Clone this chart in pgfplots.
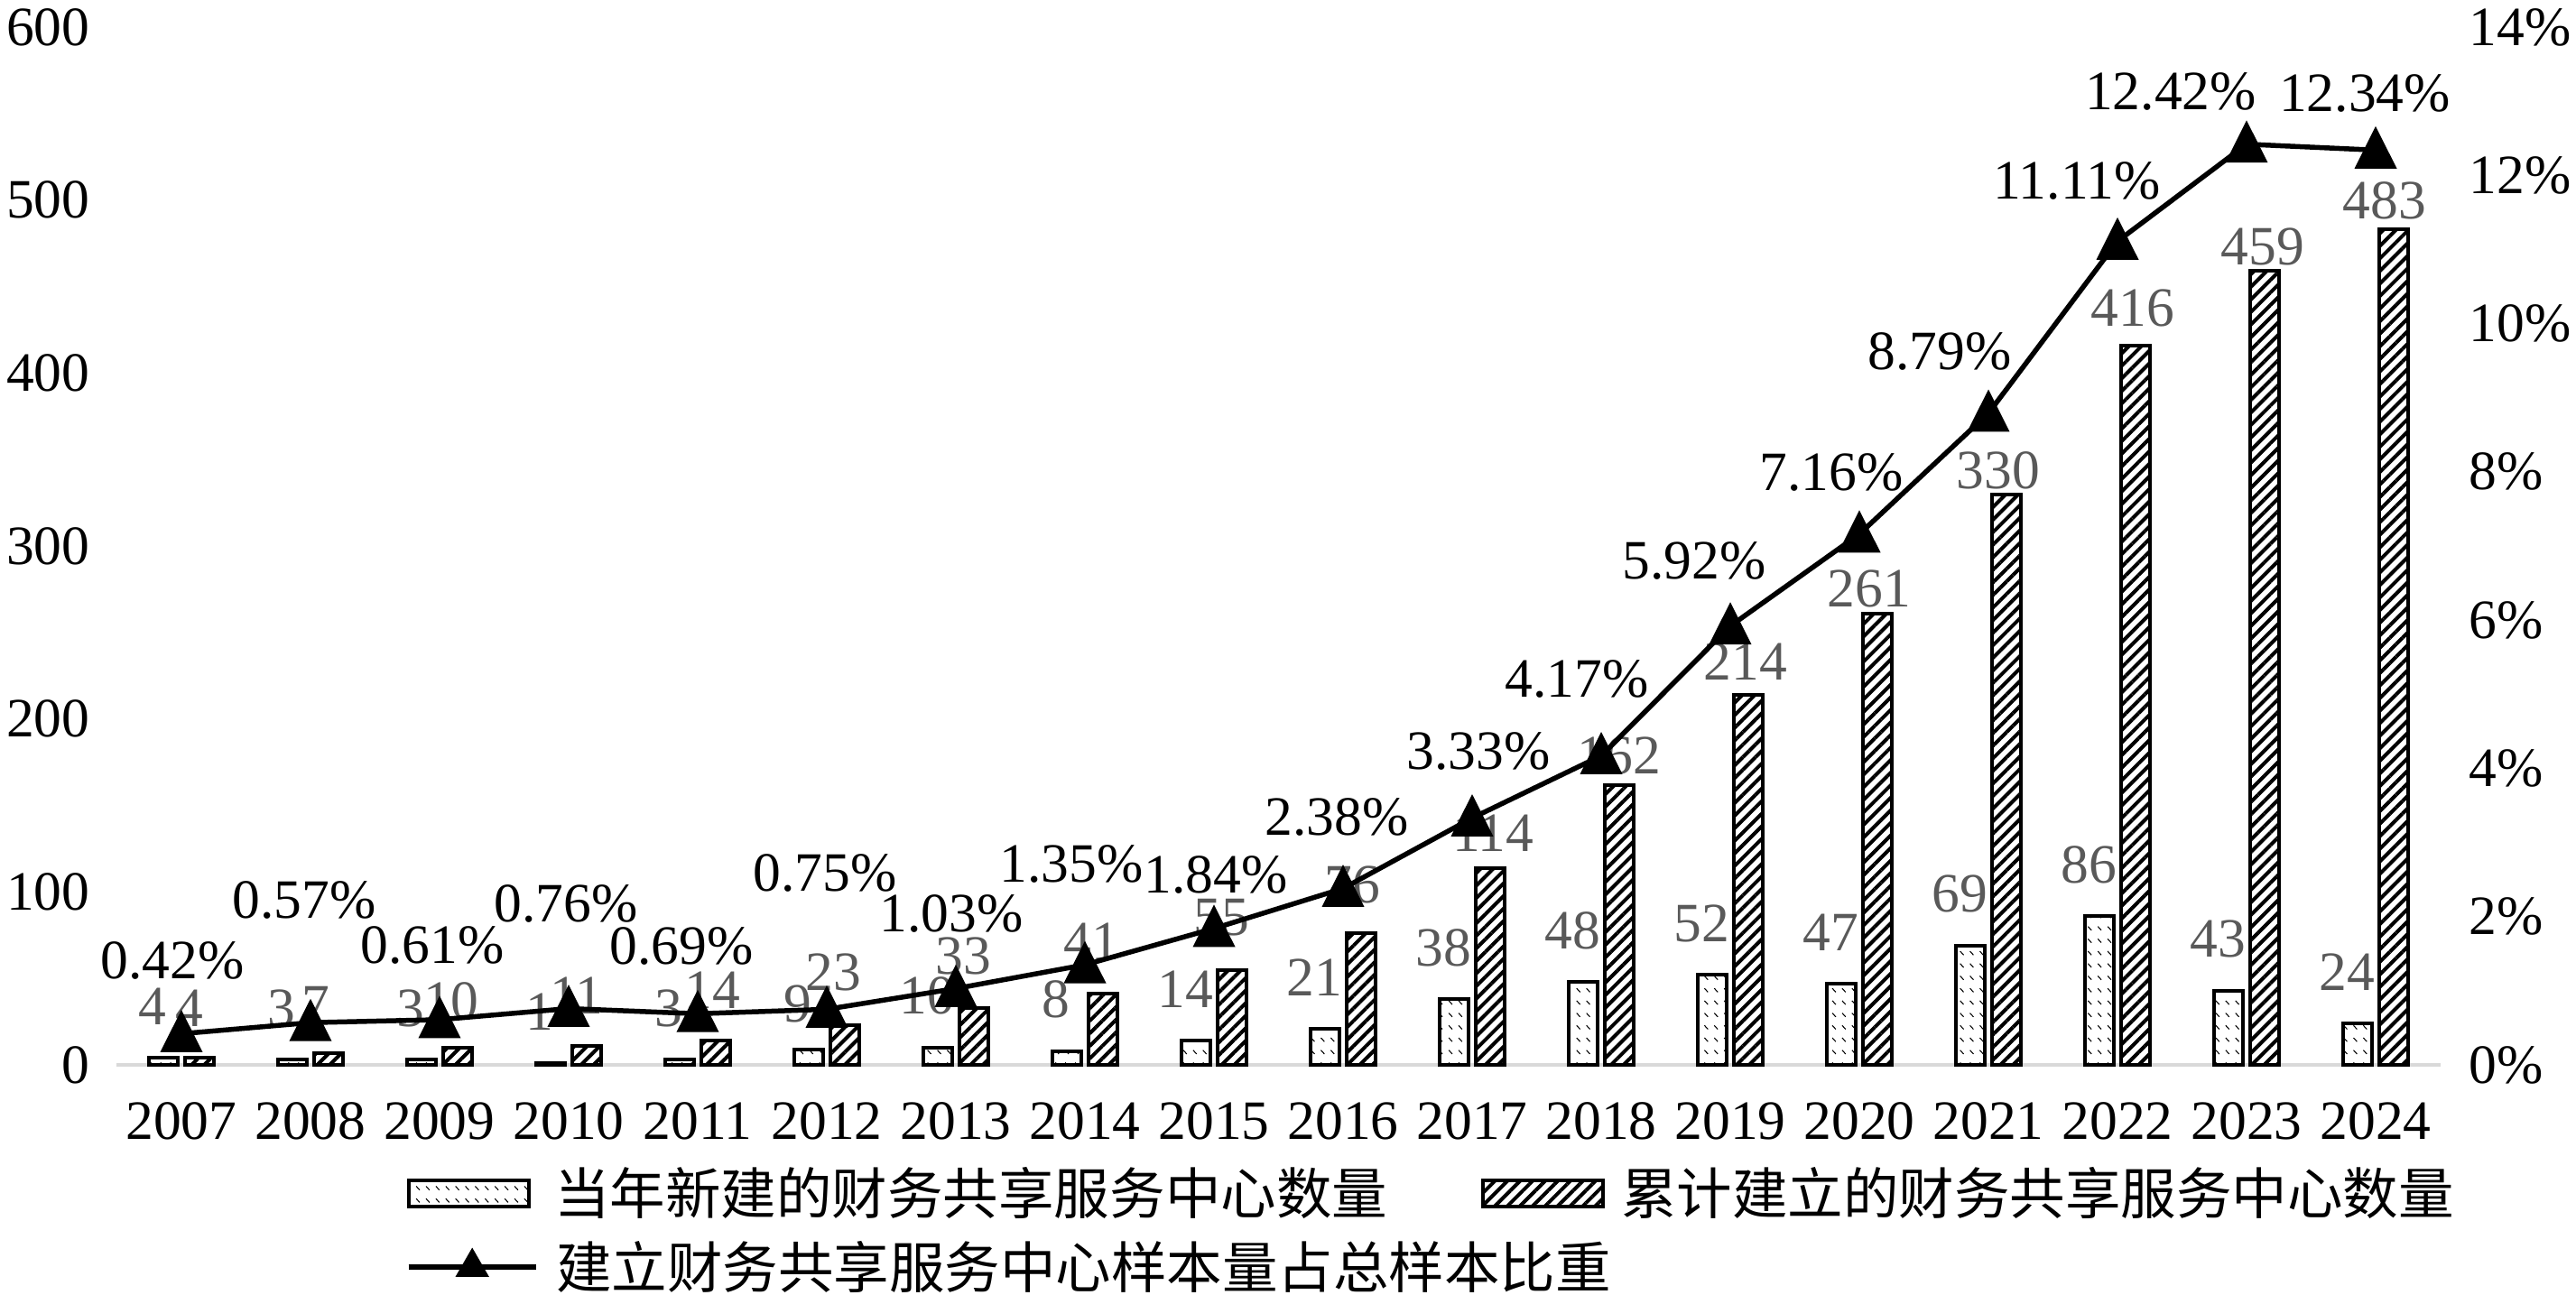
\documentclass[border=0pt]{standalone}
\usepackage{fontspec}
\setmainfont{Liberation Serif}
\newfontfamily\cjk{Noto Sans CJK SC}
\usepackage{pgfplots}
\pgfplotsset{compat=1.18}
\usepackage{pgfplotstable}
\usetikzlibrary{patterns,patterns.meta}

\definecolor{lblgray}{HTML}{595959}
\definecolor{axgray}{HTML}{D9D9D9}
\newcommand\fs{\fontsize{17.5pt}{21pt}\selectfont}

\pgfdeclarepatternformonly{sparsedash}{\pgfqpoint{-1pt}{-1pt}}{\pgfqpoint{4.5pt}{5pt}}{\pgfqpoint{3.1pt}{3.9pt}}{%
  \pgfsetlinewidth{0.3pt}%
  \pgfpathmoveto{\pgfqpoint{1.0pt}{2.8pt}}%
  \pgfpathlineto{\pgfqpoint{2.1pt}{1.6pt}}%
  \pgfusepath{stroke}%
}

\pgfplotstableread{
x new cum pct ndx ndy cdx cdy pdx pdy
0 4 4 0.42 -0.12 0.57 -0.11 0.55 -0.10 0.86
1 3 7 0.57 -0.12 0.57 -0.14 0.53 -0.07 1.41
2 3 10 0.61 -0.12 0.57 -0.07 0.51 -0.08 0.87
3 1 11 0.76 -0.12 0.57 -0.11 0.56 -0.03 1.21
4 3 14 0.69 -0.12 0.57 -0.04 0.56 -0.18 0.80
5 9 23 0.75 -0.12 0.50 -0.13 0.58 -0.02 1.56
6 10 33 1.03 -0.12 0.57 -0.12 0.57 -0.05 0.88
7 8 41 1.35 -0.12 0.57 -0.13 0.58 -0.15 1.17
8 14 55 1.84 -0.12 0.57 -0.12 0.58 0.02 0.64
9 21 76 2.38 -0.12 0.57 -0.10 0.54 -0.07 0.84
10 38 114 3.33 -0.12 0.57 0.03 0.38 0.07 0.79
11 48 162 4.17 -0.12 0.57 0.00 0.32 -0.27 0.90
12 52 214 5.92 -0.12 0.57 -0.03 0.37 -0.40 0.77
13 47 261 7.16 -0.12 0.57 -0.09 0.27 -0.31 0.73
14 69 330 8.79 -0.12 0.57 -0.09 0.26 -0.54 0.73
15 86 416 11.11 -0.12 0.57 -0.03 0.41 -0.45 0.72
16 43 459 12.42 -0.12 0.57 -0.02 0.27 -0.84 0.63
17 24 483 12.34 -0.12 0.57 -0.10 0.32 -0.12 0.68
}\datatable

\begin{document}
\begin{tikzpicture}[font=\fs]
\useasboundingbox (0,0) rectangle (28.54cm,14.34cm);

\begin{axis}[
  at={(1.295cm,2.54cm)}, anchor=south west,
  scale only axis, width=25.74cm, height=11.5cm,
  xmin=-0.5, xmax=17.5, ymin=0, ymax=600,
  enlargelimits=false, clip=false,
  axis x line*=bottom, axis y line*=left,
  x axis line style={-, draw=axgray, line width=0.04cm},
  y axis line style={draw=none},
  major tick length=0pt,
  xtick={0,1,...,17},
  xticklabels={2007,2008,2009,2010,2011,2012,2013,2014,2015,2016,2017,2018,2019,2020,2021,2022,2023,2024},
  ytick={0,100,...,600},
  /pgf/number format/assume math mode=true,
  tick label style={font=\fs},
  xticklabel style={anchor=center, yshift=-0.62cm},
  yticklabel style={anchor=east, inner sep=0pt, xshift=-0.295cm},
  bar width=0.32cm,
  legend columns=2,
  legend cell align=left,
  legend style={at={(0.1245,-0.0961)}, anchor=north west, draw=none, fill=none,
    inner sep=0pt, outer sep=0pt, font=\cjk\fs, row sep=0.19cm,
    nodes={inner sep=0pt, text height=0.55cm, text depth=0.08cm, anchor=west},
    /tikz/every odd column/.append style={column sep=0.18cm},
    /tikz/every even column/.append style={column sep=1.04cm}},
]
\addplot[ybar, bar shift=-0.2cm, draw=black, line width=0.04cm, pattern=sparsedash,
   nodes near coords={\pgfplotspointmeta}, point meta=explicit symbolic,
   visualization depends on={\thisrow{ndx}\as\ldx},
   visualization depends on={\thisrow{ndy}\as\ldy},
   nodes near coords style={anchor=center, xshift={(\ldx-0.2)*1cm}, yshift=\ldy cm, text=lblgray, font=\fs, inner sep=0pt},
   legend image code/.code={\draw[black, line width=0.04cm, pattern=sparsedash] (0cm,-0.145cm) rectangle (1.33cm,0.145cm);}]
   table[x=x, y=new, meta=new] {\datatable};
\addlegendentry{当年新建的财务共享服务中心数量}
\addplot[ybar, bar shift=0.2cm, draw=black, line width=0.04cm, pattern={Lines[angle=45, distance=2.8pt, line width=1.15pt]},
   nodes near coords={\pgfplotspointmeta}, point meta=explicit symbolic,
   visualization depends on={\thisrow{cdx}\as\mdx},
   visualization depends on={\thisrow{cdy}\as\mdy},
   nodes near coords style={anchor=center, xshift={(\mdx+0.2)*1cm}, yshift=\mdy cm, text=lblgray, font=\fs, inner sep=0pt},
   legend image code/.code={\draw[black, line width=0.04cm, pattern={Lines[angle=45, distance=2.8pt, line width=1.15pt]}] (0cm,-0.145cm) rectangle (1.33cm,0.145cm);}]
   table[x=x, y=cum, meta=cum] {\datatable};
\addlegendentry{累计建立的财务共享服务中心数量}
\addlegendimage{black, line width=0.055cm,
   legend image code/.code={\draw[black, line width=0.055cm, mark=triangle*, mark size=0.16cm, mark options={solid, fill=black}, mark repeat=2, mark phase=2] plot coordinates {(0cm,0cm) (0.705cm,0cm) (1.41cm,0cm)};}}
\addlegendentry{\makebox[0pt][l]{建立财务共享服务中心样本量占总样本比重}}
\end{axis}

\begin{axis}[
  at={(1.295cm,2.54cm)}, anchor=south west,
  scale only axis, width=25.74cm, height=11.5cm,
  xmin=-0.5, xmax=17.5, ymin=0, ymax=14,
  enlargelimits=false, clip=false,
  axis x line=none, axis y line*=right,
  y axis line style={draw=none},
  major tick length=0pt,
  ytick={0,2,4,6,8,10,12,14},
  yticklabels={0\%,2\%,4\%,6\%,8\%,10\%,12\%,14\%},
  yticklabel style={anchor=west, inner sep=0pt, xshift=0.315cm, font=\fs},
]
\addplot[black, line width=0.055cm, mark=triangle*, mark size=0.22cm,
  mark options={solid, fill=black, yshift=-0.05cm, yscale=1.15},
  nodes near coords={\pgfplotspointmeta\%}, point meta=explicit symbolic,
  visualization depends on={\thisrow{pdx}\as\pdx},
  visualization depends on={\thisrow{pdy}\as\pdy},
  nodes near coords style={anchor=center, xshift=\pdx cm, yshift=\pdy cm, text=black, font=\fs, inner sep=0pt}]
  table[x=x, y=pct, meta=pct] {\datatable};
\end{axis}
\end{tikzpicture}
\end{document}
